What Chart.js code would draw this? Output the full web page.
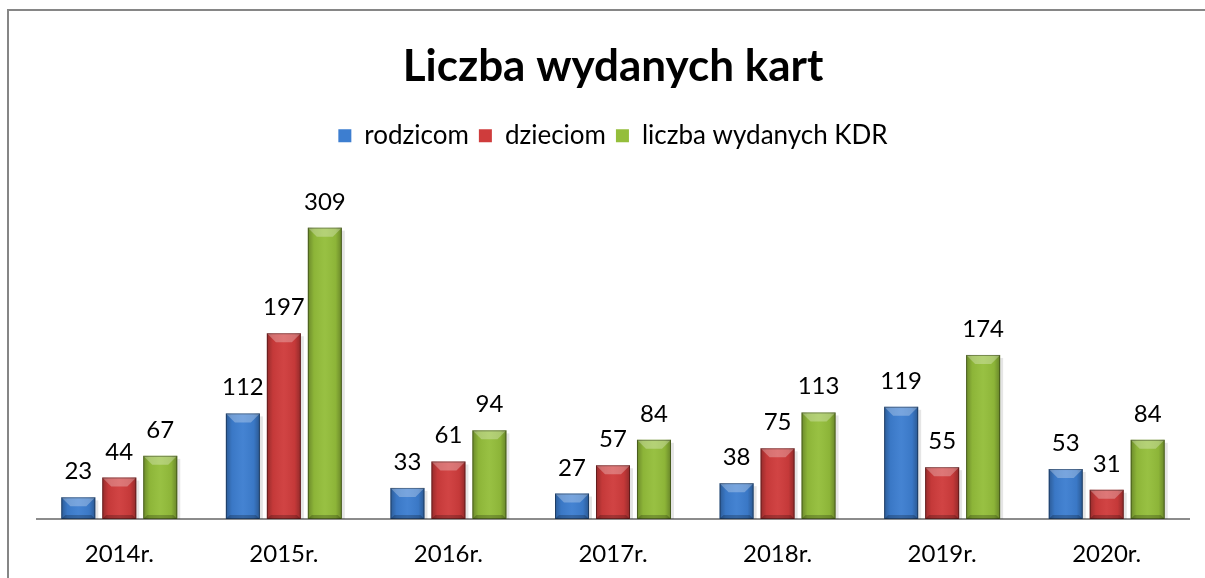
<!DOCTYPE html>
<html>
<head>
<meta charset="utf-8">
<script src="https://cdn.jsdelivr.net/npm/chart.js@4.4.1/dist/chart.umd.min.js"></script>
<style>
  html, body { margin: 0; padding: 0; background: #fff; }
  #wrap { width: 1205px; height: 578px; position: relative; }
</style>
</head>
<body>
<div id="wrap"><canvas id="myChart" width="1205" height="578"></canvas></div>
<script>
const years = ['2014r.', '2015r.', '2016r.', '2017r.', '2018r.', '2019r.', '2020r.'];
const rodzicom = [23, 112, 33, 27, 38, 119, 53];
const dzieciom = [44, 197, 61, 57, 75, 55, 31];
const kdr = [67, 309, 94, 84, 113, 174, 84];
const seriesNames = ['rodzicom', 'dzieciom', 'liczba wydanych KDR'];
const seriesColors = ['#3d7ed0', '#cf3c3c', '#94be3b'];

const FONT = 'Lato, "Open Sans", sans-serif';

// frame around the chart (top + left edges like the original)
const framePlugin = {
    id: 'frame',
    beforeDraw(chart) {
        const c = chart.ctx;
        c.save();
        c.fillStyle = '#fff';
        c.fillRect(0, 0, chart.width, chart.height);
        c.strokeStyle = '#868686';
        c.lineWidth = 2;
        c.beginPath();
        c.moveTo(8, chart.height);
        c.lineTo(8, 10);
        c.lineTo(chart.width, 10);
        c.stroke();
        c.restore();
    }
};

// bevel look on top of the bars + value labels
const bevelPlugin = {
    id: 'bevel',
    afterDatasetsDraw(chart) {
        const c = chart.ctx;
        c.save();
        chart.data.datasets.forEach((ds, di) => {
            const meta = chart.getDatasetMeta(di);
            meta.data.forEach((bar, i) => {
                const l = bar.x - bar.width / 2, r = bar.x + bar.width / 2;
                const t = bar.y, b = bar.base;
                const h = b - t;
                const bv = Math.min(9, h / 2);
                // soft shadow on the right
                c.fillStyle = 'rgba(0,0,0,0.10)';
                c.fillRect(r, t + 3, 3, h - 3);
                // darker sides
                const g = c.createLinearGradient(l, 0, r, 0);
                g.addColorStop(0, 'rgba(0,0,0,0.28)');
                g.addColorStop(0.18, 'rgba(0,0,0,0.05)');
                g.addColorStop(0.5, 'rgba(255,255,255,0.04)');
                g.addColorStop(0.82, 'rgba(0,0,0,0.05)');
                g.addColorStop(1, 'rgba(0,0,0,0.3)');
                c.fillStyle = g;
                c.fillRect(l, t, r - l, h);
                // top bevel
                c.fillStyle = 'rgba(255,255,255,0.28)';
                c.beginPath();
                c.moveTo(l, t); c.lineTo(r, t); c.lineTo(r - bv, t + bv); c.lineTo(l + bv, t + bv);
                c.closePath(); c.fill();
                // bottom bevel
                const bb = Math.min(4, h / 3);
                c.fillStyle = 'rgba(0,0,0,0.22)';
                c.beginPath();
                c.moveTo(l, b); c.lineTo(r, b); c.lineTo(r - bb, b - bb); c.lineTo(l + bb, b - bb);
                c.closePath(); c.fill();
                // outline
                c.strokeStyle = 'rgba(0,0,0,0.35)';
                c.lineWidth = 1;
                c.strokeRect(l + 0.5, t + 0.5, r - l - 1, h - 1);
                // value label
                c.fillStyle = '#000';
                c.font = '24px ' + FONT;
                c.textAlign = 'center';
                c.textBaseline = 'alphabetic';
                c.fillText(String(ds.data[i]), bar.x, t - 18);
            });
        });
        c.restore();
    }
};

const ctx = document.getElementById('myChart').getContext('2d');
const myChart = new Chart(ctx, {
    type: 'bar',
    data: {
        labels: years,
        datasets: [
            { label: seriesNames[0], data: rodzicom, backgroundColor: seriesColors[0] },
            { label: seriesNames[1], data: dzieciom, backgroundColor: seriesColors[1] },
            { label: seriesNames[2], data: kdr, backgroundColor: seriesColors[2] }
        ]
    },
    options: {
        responsive: false,
        animation: false,
        layout: { padding: { left: 37, right: 16, top: 0, bottom: 11 } },
        datasets: {
            bar: { categoryPercentage: 0.747, barPercentage: 0.83 }
        },
        plugins: {
            title: {
                display: true,
                text: 'Liczba wydanych kart',
                color: '#000',
                font: { family: FONT, size: 44, weight: 'bold' },
                padding: { top: 40, bottom: 20 }
            },
            legend: {
                display: true,
                labels: {
                    color: '#000',
                    font: { family: FONT, size: 26 },
                    boxWidth: 13,
                    boxHeight: 13,
                    padding: 10
                }
            },
            tooltip: { enabled: false }
        },
        scales: {
            x: {
                grid: { display: false, drawTicks: false },
                border: { display: true, color: '#8c8c8c', width: 2 },
                ticks: { color: '#000', font: { family: FONT, size: 24 }, padding: 21 },
                afterFit(scale) { scale.height = 48; }
            },
            y: {
                display: false,
                min: 0,
                max: 382
            }
        }
    },
    plugins: [framePlugin, bevelPlugin]
});
</script>
</body>
</html>
